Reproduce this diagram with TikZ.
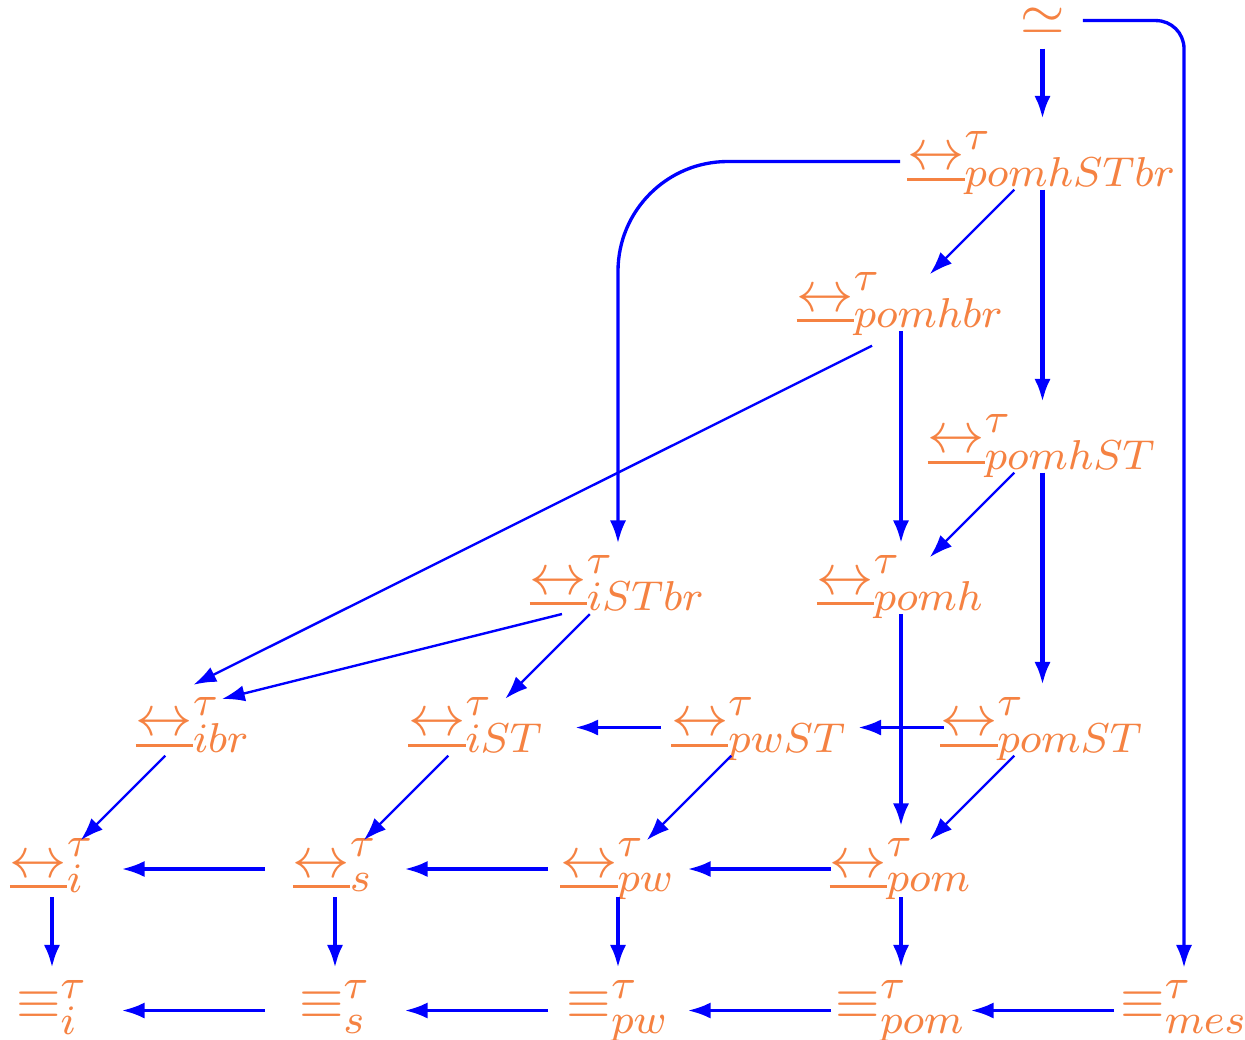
\documentclass[11pt,tikz,border=0pt]{standalone}
\usetikzlibrary{arrows.meta}

\definecolor{relorange}{RGB}{245,130,66}
% underlined double arrow, with a slightly heavier bar
\newcommand{\bisim}{{\vtop{\offinterlineskip
  \hbox{$\leftrightarrow$}\kern1.5pt\hrule height0.6pt}}}

\tikzset{
  rel/.style   = {text=relorange, inner sep=0pt, scale=1.1,
                  text height=10.5pt, text depth=7.3pt},
  imp/.style   = {draw=blue, -{Latex[length=4.8pt,width=3.4pt]}},
  vert/.style  = {imp, line width=0.85pt, shorten <=5.9pt, shorten >=9pt},
  hor/.style   = {imp, line width=0.7pt, shorten <=14.7pt, shorten >=14.7pt},
  horw/.style  = {imp, line width=0.7pt, shorten <=20.8pt, shorten >=20.8pt},
  diag/.style  = {imp, line width=0.5pt, shorten <=8.4pt, shorten >=8.6pt},
  route/.style = {imp, line width=0.7pt}
}

\begin{document}
\begin{tikzpicture}[x=29.79pt, y=-29.79pt]
\useasboundingbox (-0.3675,-0.1413) rectangle (8.431,7.208);

% relations, one grid step = half a column
\node[rel, yshift=-1.2pt] (simeq) at (7,0) {$\simeq$};
\node[rel] (pomhSTbr) at (7,1) {$\bisim^{\tau}_{pomhSTbr}$};
\node[rel] (pomhbr)   at (6,2) {$\bisim^{\tau}_{pomhbr}$};
\node[rel] (pomhST)   at (7,3) {$\bisim^{\tau}_{pomhST}$};
\node[rel] (iSTbr)    at (4,4) {$\bisim^{\tau}_{iSTbr}$};
\node[rel] (pomh)     at (6,4) {$\bisim^{\tau}_{pomh}$};
\node[rel] (ibr)      at (1,5) {$\bisim^{\tau}_{ibr}$};
\node[rel] (iST)      at (3,5) {$\bisim^{\tau}_{iST}$};
\node[rel] (pwST)     at (5,5) {$\bisim^{\tau}_{pwST}$};
\node[rel] (pomST)    at (7,5) {$\bisim^{\tau}_{pomST}$};
\node[rel] (i)        at (0,6) {$\bisim^{\tau}_{i}$};
\node[rel] (s)        at (2,6) {$\bisim^{\tau}_{s}$};
\node[rel] (pw)       at (4,6) {$\bisim^{\tau}_{pw}$};
\node[rel] (pom)      at (6,6) {$\bisim^{\tau}_{pom}$};
\node[rel] (eqi)      at (0,7) {$\equiv^{\tau}_{i}$};
\node[rel] (eqs)      at (2,7) {$\equiv^{\tau}_{s}$};
\node[rel] (eqpw)     at (4,7) {$\equiv^{\tau}_{pw}$};
\node[rel] (eqpom)    at (6,7) {$\equiv^{\tau}_{pom}$};
\node[rel] (eqmes)    at (8,7) {$\equiv^{\tau}_{mes}$};

% vertical inclusions
\draw[vert] ([yshift=1.2pt]simeq.center) -- (pomhSTbr.center);
\draw[vert] (pomhSTbr.center) -- (pomhST.center);
\draw[vert] (pomhbr.center)   -- (pomh.center);
\draw[vert] (pomhST.center)   -- (pomST.center);
\draw[vert] (pomh.center)     -- (pom.center);
\draw[vert] (i.center)        -- (eqi.center);
\draw[vert] (s.center)        -- (eqs.center);
\draw[vert] (pw.center)       -- (eqpw.center);
\draw[vert] (pom.center)      -- (eqpom.center);

% horizontal inclusions
\draw[horw] (pomST.center) -- (pwST.center);
\draw[horw] (pwST.center)  -- (iST.center);
\draw[hor]  (pom.center)   -- (pw.center);
\draw[hor]  (pw.center)    -- (s.center);
\draw[hor]  (s.center)     -- (i.center);
\draw[hor]  (eqmes.center) -- (eqpom.center);
\draw[hor]  (eqpom.center) -- (eqpw.center);
\draw[hor]  (eqpw.center)  -- (eqs.center);
\draw[hor]  (eqs.center)   -- (eqi.center);

% diagonal inclusions
\draw[diag] (pomhSTbr.center) -- (pomhbr.center);
\draw[diag] (pomhST.center)   -- (pomh.center);
\draw[diag] (iSTbr.center)    -- (iST.center);
\draw[diag] (pomST.center)    -- (pom.center);
\draw[diag] (pwST.center)     -- (pw.center);
\draw[diag] (iST.center)      -- (s.center);
\draw[diag] (ibr.center)      -- (i.center);

% the long ones
\draw[imp, line width=0.5pt] ([shift={(-6.1pt,-9pt)}]pomhbr.center)
  -- ([yshift=9pt]ibr.center);
\draw[imp, line width=0.5pt] ([shift={(-11.8pt,-5.9pt)}]iSTbr.center)
  -- ([shift={(6pt,6pt)}]ibr.center);
\draw[route, rounded corners=23.1pt] ([xshift=-30pt]pomhSTbr.center)
  -| ([yshift=9pt]iSTbr.center);
\draw[route, rounded corners=5.9pt] ([shift={(8.5pt,1.2pt)}]simeq.center)
  -| ([yshift=9pt]eqmes.center);
\end{tikzpicture}
\end{document}
